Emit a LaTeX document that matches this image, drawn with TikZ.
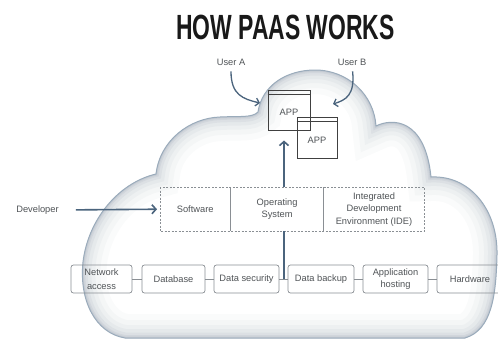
\documentclass[tikz,border=0pt]{standalone}
\usepackage{fontspec}
\setmainfont{Liberation Sans}
\usetikzlibrary{arrows.meta}
\definecolor{ink}{HTML}{505457}
\definecolor{steel}{HTML}{4B647D}
\definecolor{cloudedge}{HTML}{9AABBB}
\definecolor{cloudshade}{HTML}{8D9AA8}
\definecolor{boxline}{HTML}{8A8F94}

% outline of the cloud (1 unit = 1pt, y grows downwards)
\def\cloudpath{(125,338)
  .. controls (95,333) and (79,300) .. (83,262)
  .. controls (88,220) and (118,183) .. (156,174)
  .. controls (160,140) and (190,118) .. (220,117)
  .. controls (240,116) and (252,118) .. (258,112)
  .. controls (262,85) and (287,70) .. (315,70)
  .. controls (348,70) and (374,95) .. (376,126)
  .. controls (392,118) and (425,118) .. (431,177)
  .. controls (470,175) and (498,210) .. (497,255)
  .. controls (496,295) and (492,330) .. (465,338)
  -- cycle}

\begin{document}
\begin{tikzpicture}[x=1pt,y=-1pt,
  lbl/.style={font=\fontsize{9.3}{12.5}\selectfont, text=ink, inner sep=0pt, align=center},
  layer/.style={lbl, minimum height=44pt},
  res/.style={lbl, draw=boxline, rounded corners=2.5pt, line width=0.7pt, minimum height=28pt},
  appwin/.style={lbl, draw=black!75, line width=1pt},
  flow/.style={draw=steel, line width=1.6pt, -{Straight Barb[length=4pt,width=9pt]}},
  userflow/.style={draw=steel, line width=1.3pt, -{Straight Barb[length=3.5pt,width=8pt]}},
  stemline/.style={draw=steel, line width=1.6pt},
  link/.style={draw=boxline, line width=0.7pt}
]
\useasboundingbox (0,0) rectangle (498,343);
\fill[white] (0,0) rectangle (498,343);

% cloud body with a soft inner shadow along its rim
\fill[white] \cloudpath;
\begin{scope}
  \clip \cloudpath;
  \foreach \w/\o in {48/0.04, 36/0.05, 26/0.06, 18/0.08, 11/0.10, 6/0.13, 3/0.17}
    \draw[cloudshade, line width=\w pt, opacity=\o] \cloudpath;
\end{scope}
\draw[cloudedge, line width=1pt] \cloudpath;

% title
\node[inner sep=0pt, text=black!90] (title) at (285.5,27.5)
  {\scalebox{0.655}[1]{\fontsize{35}{35}\selectfont\bfseries HOW PAAS WORKS}};

% users and applications
\node[lbl] (ua) at (231,62) {User A};
\node[lbl] (ub) at (352,62) {User B};
\node[appwin, minimum width=42pt, minimum height=40pt] (app1) at (289,110) {};
\node[appwin, minimum width=40pt, minimum height=41pt] (app2) at (317,137.5) {};
\draw[black!75, line width=0.8pt] ([yshift=-5pt]app1.north west) -- ([yshift=-5pt]app1.north east);
\draw[black!75, line width=0.8pt] ([yshift=-5pt]app2.north west) -- ([yshift=-5pt]app2.north east);
\node[lbl] at ([yshift=-2pt]app1.center) {APP};
\node[lbl] at ([yshift=-3pt]app2.center) {APP};

\coordinate (tipA) at (260,103);
\coordinate (tipB) at (333,104);
\draw[userflow, shorten <=6pt] (ua.south) .. controls (231,95) and (243,99) .. (tipA);
\draw[userflow, shorten <=6pt] (ub.south) .. controls (355,95) and (346,100) .. (tipB);

% platform layer
\node[layer, anchor=north west, minimum width=70pt] (sw) at (160,187) {Software};
\node[layer, anchor=north west, minimum width=93pt] (os) at (sw.north east) {Operating\\System};
\node[layer, anchor=north west, minimum width=100pt] (ide) at (os.north east) {Integrated\\Development\\Environment (IDE)};
\draw[boxline, line width=0.8pt, dashed, dash pattern=on 2pt off 1.5pt] (sw.north west) rectangle (ide.south east);
\draw[boxline, line width=0.8pt] (sw.north east) -- (sw.south east);
\draw[boxline, line width=0.8pt] (os.north east) -- (os.south east);

% developer
\node[lbl] (dev) at (37.5,210) {Developer};
\draw[flow, shorten <=17pt, shorten >=3pt] (dev.east) -- (sw.west);

% infrastructure row
\node[res, minimum width=61pt] (net) at (101.5,279) {Network\\[1pt]access};
\node[res, minimum width=63pt] (db) at (173.5,279) {Database};
\node[res, minimum width=65pt] (sec) at (246.5,279) {Data security};
\node[res, minimum width=66pt] (bak) at (321,279) {Data backup};
\node[res, minimum width=65pt] (host) at (395.5,279) {Application\\hosting};
\node[res, minimum width=66pt] (hw) at (470,279) {Hardware};
\draw[link] (net) -- (db);
\draw[link] (db) -- (sec);
\draw[link] (sec) -- (bak);
\draw[link] (bak) -- (host);
\draw[link] (host) -- (hw);

% path from infrastructure up to the applications
\coordinate (stem) at (284,0);
\draw[stemline] (stem |- os.south) -- (stem |- sec.east);
\draw[flow, shorten >=10pt] (stem |- os.north) -- (stem |- app1.south);
\end{tikzpicture}
\end{document}
